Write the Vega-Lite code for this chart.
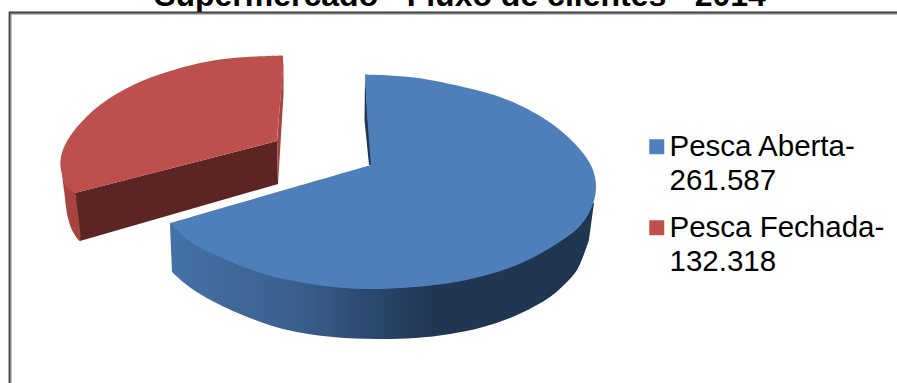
{
  "$schema": "https://vega.github.io/schema/vega-lite/v6.json",
  "width": 897,
  "height": 383,
  "padding": 0,
  "autosize": {"type": "none"},
  "background": "white",
  "view": {"stroke": null},
  "config": {"style": {"guide-label": {"lineHeight": 34}}},
  "datasets": {
    "titulo": [
      {"texto": "Supermercado - Fluxo de clientes - 2014", "x": 460, "y": 5.5}
    ],
    "series": [
      {"serie": "Pesca Aberta-\n261.587", "clientes": 261587},
      {"serie": "Pesca Fechada-\n132.318", "clientes": 132318}
    ],
    "contornos": [
      {"parte": "moldura_sombra", "i": 0, "x": 11, "y": 383},
      {"parte": "moldura_sombra", "i": 1, "x": 11, "y": 14},
      {"parte": "moldura_sombra", "i": 2, "x": 897, "y": 14},
      {"parte": "moldura", "i": 0, "x": 9.5, "y": 383},
      {"parte": "moldura", "i": 1, "x": 9.5, "y": 12.5},
      {"parte": "moldura", "i": 2, "x": 897, "y": 12.5},

      {"parte": "lateral_azul", "i": 0, "x": 170, "y": 223},
      {"parte": "lateral_azul", "i": 1, "x": 170, "y": 223},
      {"parte": "lateral_azul", "i": 2, "x": 594, "y": 203},
      {"parte": "lateral_azul", "i": 3, "x": 594, "y": 203},
      {"parte": "lateral_azul", "i": 4, "x": 589, "y": 240},
      {"parte": "lateral_azul", "i": 5, "x": 589, "y": 240},
      {"parte": "lateral_azul", "i": 6, "x": 577, "y": 270},
      {"parte": "lateral_azul", "i": 7, "x": 565, "y": 284},
      {"parte": "lateral_azul", "i": 8, "x": 550, "y": 297},
      {"parte": "lateral_azul", "i": 9, "x": 517, "y": 315},
      {"parte": "lateral_azul", "i": 10, "x": 483, "y": 327},
      {"parte": "lateral_azul", "i": 11, "x": 450, "y": 334},
      {"parte": "lateral_azul", "i": 12, "x": 415, "y": 338},
      {"parte": "lateral_azul", "i": 13, "x": 377, "y": 339},
      {"parte": "lateral_azul", "i": 14, "x": 333, "y": 337},
      {"parte": "lateral_azul", "i": 15, "x": 283, "y": 329},
      {"parte": "lateral_azul", "i": 16, "x": 233, "y": 311},
      {"parte": "lateral_azul", "i": 17, "x": 200, "y": 294},
      {"parte": "lateral_azul", "i": 18, "x": 183, "y": 282},
      {"parte": "lateral_azul", "i": 19, "x": 172, "y": 272},
      {"parte": "lateral_azul", "i": 20, "x": 172, "y": 272},
      {"parte": "lateral_azul", "i": 21, "x": 170, "y": 223},
      {"parte": "lateral_azul", "i": 22, "x": 170, "y": 223},

      {"parte": "corte_azul", "i": 0, "x": 365, "y": 76},
      {"parte": "corte_azul", "i": 1, "x": 364.5, "y": 120},
      {"parte": "corte_azul", "i": 2, "x": 369, "y": 165},
      {"parte": "corte_azul", "i": 3, "x": 372, "y": 165},
      {"parte": "corte_azul", "i": 4, "x": 368, "y": 120},

      {"parte": "topo_azul", "i": 0, "x": 365, "y": 74.5},
      {"parte": "topo_azul", "i": 1, "x": 365, "y": 74.5},
      {"parte": "topo_azul", "i": 2, "x": 410, "y": 77},
      {"parte": "topo_azul", "i": 3, "x": 450, "y": 84},
      {"parte": "topo_azul", "i": 4, "x": 500, "y": 97},
      {"parte": "topo_azul", "i": 5, "x": 533, "y": 112},
      {"parte": "topo_azul", "i": 6, "x": 560, "y": 130},
      {"parte": "topo_azul", "i": 7, "x": 583, "y": 153},
      {"parte": "topo_azul", "i": 8, "x": 593, "y": 170},
      {"parte": "topo_azul", "i": 9, "x": 596, "y": 186},
      {"parte": "topo_azul", "i": 10, "x": 593, "y": 204},
      {"parte": "topo_azul", "i": 11, "x": 580, "y": 226},
      {"parte": "topo_azul", "i": 12, "x": 550, "y": 248},
      {"parte": "topo_azul", "i": 13, "x": 517, "y": 265},
      {"parte": "topo_azul", "i": 14, "x": 483, "y": 276},
      {"parte": "topo_azul", "i": 15, "x": 450, "y": 283},
      {"parte": "topo_azul", "i": 16, "x": 415, "y": 287},
      {"parte": "topo_azul", "i": 17, "x": 377, "y": 289},
      {"parte": "topo_azul", "i": 18, "x": 345, "y": 288},
      {"parte": "topo_azul", "i": 19, "x": 317, "y": 285},
      {"parte": "topo_azul", "i": 20, "x": 267, "y": 275},
      {"parte": "topo_azul", "i": 21, "x": 227, "y": 260},
      {"parte": "topo_azul", "i": 22, "x": 192, "y": 243},
      {"parte": "topo_azul", "i": 23, "x": 170, "y": 223},
      {"parte": "topo_azul", "i": 24, "x": 170, "y": 223},
      {"parte": "topo_azul", "i": 25, "x": 371, "y": 165},
      {"parte": "topo_azul", "i": 26, "x": 371, "y": 165},
      {"parte": "topo_azul", "i": 27, "x": 367.5, "y": 120},
      {"parte": "topo_azul", "i": 28, "x": 365, "y": 74.5},
      {"parte": "topo_azul", "i": 29, "x": 365, "y": 74.5},

      {"parte": "frente_vermelha", "i": 0, "x": 277, "y": 141},
      {"parte": "frente_vermelha", "i": 1, "x": 278, "y": 184},
      {"parte": "frente_vermelha", "i": 2, "x": 80, "y": 241},
      {"parte": "frente_vermelha", "i": 3, "x": 75, "y": 193},

      {"parte": "lateral_vermelha", "i": 0, "x": 61, "y": 162},
      {"parte": "lateral_vermelha", "i": 1, "x": 64, "y": 190},
      {"parte": "lateral_vermelha", "i": 2, "x": 68, "y": 218},
      {"parte": "lateral_vermelha", "i": 3, "x": 73, "y": 232},
      {"parte": "lateral_vermelha", "i": 4, "x": 80, "y": 241},
      {"parte": "lateral_vermelha", "i": 5, "x": 75, "y": 193},

      {"parte": "borda_vermelha", "i": 0, "x": 283.5, "y": 60},
      {"parte": "borda_vermelha", "i": 1, "x": 283.5, "y": 95},
      {"parte": "borda_vermelha", "i": 2, "x": 278, "y": 184},
      {"parte": "borda_vermelha", "i": 3, "x": 277, "y": 141},

      {"parte": "topo_vermelho", "i": 0, "x": 283, "y": 55.5},
      {"parte": "topo_vermelho", "i": 1, "x": 283, "y": 55.5},
      {"parte": "topo_vermelho", "i": 2, "x": 233, "y": 58},
      {"parte": "topo_vermelho", "i": 3, "x": 200, "y": 63},
      {"parte": "topo_vermelho", "i": 4, "x": 167, "y": 72},
      {"parte": "topo_vermelho", "i": 5, "x": 133, "y": 85},
      {"parte": "topo_vermelho", "i": 6, "x": 100, "y": 105},
      {"parte": "topo_vermelho", "i": 7, "x": 77, "y": 127},
      {"parte": "topo_vermelho", "i": 8, "x": 65, "y": 145},
      {"parte": "topo_vermelho", "i": 9, "x": 60.5, "y": 160},
      {"parte": "topo_vermelho", "i": 10, "x": 62, "y": 175},
      {"parte": "topo_vermelho", "i": 11, "x": 66, "y": 186},
      {"parte": "topo_vermelho", "i": 12, "x": 75, "y": 193},
      {"parte": "topo_vermelho", "i": 13, "x": 75, "y": 193},
      {"parte": "topo_vermelho", "i": 14, "x": 277, "y": 141},
      {"parte": "topo_vermelho", "i": 15, "x": 277, "y": 141},
      {"parte": "topo_vermelho", "i": 16, "x": 283, "y": 70},
      {"parte": "topo_vermelho", "i": 17, "x": 283, "y": 70},
      {"parte": "topo_vermelho", "i": 18, "x": 283, "y": 55.5},
      {"parte": "topo_vermelho", "i": 19, "x": 283, "y": 55.5}
    ]
  },
  "data": {"name": "contornos"},
  "encoding": {
    "x": {"field": "x", "type": "quantitative", "scale": {"domain": [0, 897], "nice": false, "zero": false}, "axis": null},
    "y": {"field": "y", "type": "quantitative", "scale": {"domain": [383, 0], "nice": false, "zero": false}, "axis": null},
    "order": {"field": "i", "type": "quantitative"}
  },
  "layer": [
    {
      "data": {"name": "titulo"},
      "mark": {"type": "text", "font": "Liberation Sans", "fontWeight": "bold", "fontSize": 32, "color": "#000000", "align": "center", "baseline": "alphabetic"},
      "encoding": {
        "order": {"value": 0},
        "text": {"field": "texto", "type": "nominal"}
      }
    },
    {
      "transform": [{"filter": "datum.parte === 'moldura_sombra'"}],
      "mark": {"type": "line", "stroke": "#a6a6a6", "strokeWidth": 1.5, "clip": true}
    },
    {
      "transform": [{"filter": "datum.parte === 'moldura'"}],
      "mark": {"type": "line", "stroke": "#404040", "strokeWidth": 1.8, "clip": true}
    },
    {
      "transform": [{"filter": "datum.parte === 'lateral_azul'"}],
      "mark": {
        "type": "line",
        "interpolate": "catmull-rom",
        "strokeWidth": 0,
        "fill": {
          "gradient": "linear", "x1": 0, "y1": 0, "x2": 1, "y2": 0,
          "stops": [
            {"offset": 0, "color": "#4472a6"},
            {"offset": 0.3, "color": "#3a5f8d"},
            {"offset": 0.45, "color": "#2d4b72"},
            {"offset": 0.62, "color": "#203652"},
            {"offset": 1, "color": "#1f3550"}
          ]
        }
      }
    },
    {
      "transform": [{"filter": "datum.parte === 'corte_azul'"}],
      "mark": {"type": "line", "strokeWidth": 0, "fill": "#1f3550"}
    },
    {
      "transform": [{"filter": "datum.parte === 'topo_azul'"}],
      "mark": {"type": "line", "interpolate": "catmull-rom", "strokeWidth": 0, "fill": "#4f7fbb"}
    },
    {
      "transform": [{"filter": "datum.parte === 'frente_vermelha'"}],
      "mark": {"type": "line", "strokeWidth": 0, "fill": "#5c2523"}
    },
    {
      "transform": [{"filter": "datum.parte === 'lateral_vermelha'"}],
      "mark": {"type": "line", "interpolate": "catmull-rom", "strokeWidth": 0, "fill": "#a8443f"}
    },
    {
      "transform": [{"filter": "datum.parte === 'borda_vermelha'"}],
      "mark": {"type": "line", "strokeWidth": 0, "fill": "#a8443f"}
    },
    {
      "transform": [{"filter": "datum.parte === 'topo_vermelho'"}],
      "mark": {"type": "line", "interpolate": "catmull-rom", "strokeWidth": 0, "fill": "#bd504c"}
    },
    {
      "data": {"name": "series"},
      "mark": {"type": "point", "filled": true, "opacity": 0},
      "encoding": {
        "x": {"value": 100},
        "y": {"value": 100},
        "order": {"value": 0},
        "fill": {
          "field": "serie",
          "type": "nominal",
          "scale": {"domain": ["Pesca Aberta-\n261.587", "Pesca Fechada-\n132.318"], "range": ["#4f81bd", "#c0504d"]},
          "legend": {
            "title": null,
            "orient": "none",
            "legendX": 642,
            "legendY": 132,
            "symbolType": "square",
            "symbolSize": 225,
            "symbolOpacity": 1,
            "symbolStrokeWidth": 0,
            "labelFont": "Liberation Sans",
            "labelFontSize": 29.5,
            "labelColor": "#000000",
            "labelOffset": -2,
            "labelLimit": 300,
            "rowPadding": 16,
            "labelExpr": "split(datum.label, '\\n')"
          }
        }
      }
    }
  ]
}
